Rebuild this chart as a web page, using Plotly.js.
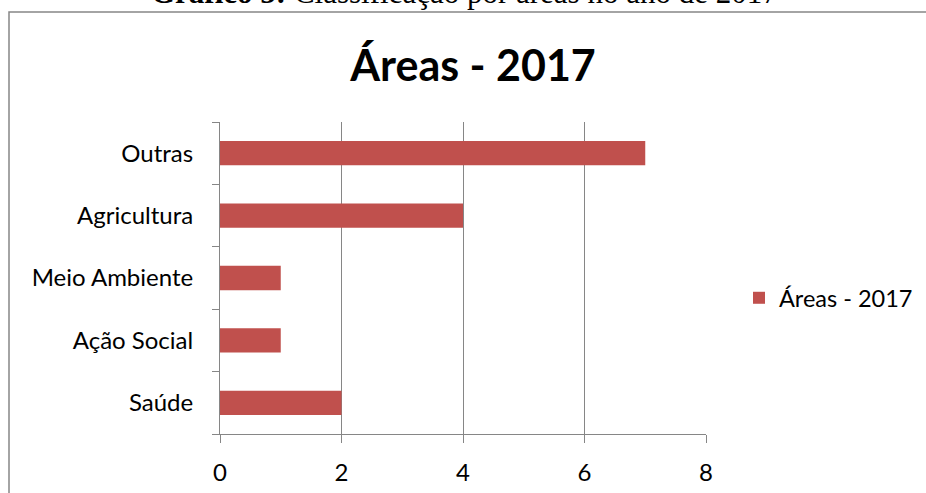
<!DOCTYPE html>
<html>
<head>
<meta charset="utf-8">
<script src="https://cdn.plot.ly/plotly-3.0.1.min.js"></script>
<style>html,body{margin:0;padding:0;background:#fff;}#chart{width:926px;height:493px;}</style>
</head>
<body>
<div id="chart"></div>
<script>
const categories = ['Saúde', 'Ação Social', 'Meio Ambiente', 'Agricultura', 'Outras'];
const values = [2, 1, 1, 4, 7];
const seriesName = 'Áreas - 2017';
const chartTitle = 'Áreas - 2017';
const caption = '<b>Gráfico 5:</b> Classificação por áreas no ano de 2017';
const xTicks = [0, 2, 4, 6, 8];

const W = 926, H = 493;
const L = 220, R = 706, T = 122, B = 434;
const px = x => (x - L) / (R - L);
const py = y => (B - y) / (B - T);

const trace = {
  type: 'bar',
  orientation: 'h',
  y: categories,
  x: values,
  name: seriesName,
  marker: {color: '#C0504D'},
  showlegend: true,
  hoverinfo: 'x+y'
};

const layout = {
  width: W, height: H,
  margin: {l: L, r: W - R, t: T, b: H - B, pad: 0, autoexpand: false},
  paper_bgcolor: '#fff',
  plot_bgcolor: '#fff',
  font: {family: 'Lato, Carlito, "Open Sans", sans-serif', size: 24, color: '#000'},
  title: {
    text: '<b>' + chartTitle + '</b>',
    font: {family: 'Lato, Carlito, sans-serif', size: 43, color: '#000'},
    x: 473 / W, xanchor: 'center',
    y: 1 - 66 / H, yanchor: 'middle', yref: 'container'
  },
  bargap: 0.61,
  xaxis: {
    range: [0, 8],
    tickvals: xTicks,
    ticktext: xTicks.map(String),
    showgrid: true, gridcolor: '#868686', gridwidth: 1,
    zeroline: false,
    showline: true, linecolor: '#868686', linewidth: 1,
    ticks: 'outside', ticklen: 8, tickcolor: '#868686', tickwidth: 1,
    ticklabelstandoff: 9,
    automargin: false,
    fixedrange: true
  },
  yaxis: {
    type: 'category',
    categoryorder: 'array', categoryarray: categories,
    showgrid: false, zeroline: false,
    showline: true, linecolor: '#868686', linewidth: 1,
    ticks: 'outside', ticklen: 7, tickcolor: '#868686', tickwidth: 1,
    tickson: 'boundaries',
    ticklabelstandoff: 21,
    automargin: false,
    fixedrange: true
  },
  legend: {
    x: px(739), xanchor: 'left',
    y: py(298), yanchor: 'middle',
    font: {size: 23.5, color: '#000'},
    bgcolor: 'rgba(0,0,0,0)',
    borderwidth: 0
  },
  shapes: [{
    type: 'rect', xref: 'paper', yref: 'paper',
    x0: px(9), x1: px(940), y0: py(520), y1: py(12),
    line: {color: '#868686', width: 1.5}, fillcolor: 'rgba(0,0,0,0)', layer: 'below'
  }],
  annotations: [{
    xref: 'paper', yref: 'paper',
    x: px(464), xanchor: 'center',
    y: py(12), yanchor: 'bottom',
    text: caption, showarrow: false,
    font: {family: '"Liberation Serif", "Times New Roman", serif', size: 31, color: '#000'}
  }]
};

Plotly.newPlot('chart', [trace], layout, {displayModeBar: false, staticPlot: true});
</script>
</body>
</html>
